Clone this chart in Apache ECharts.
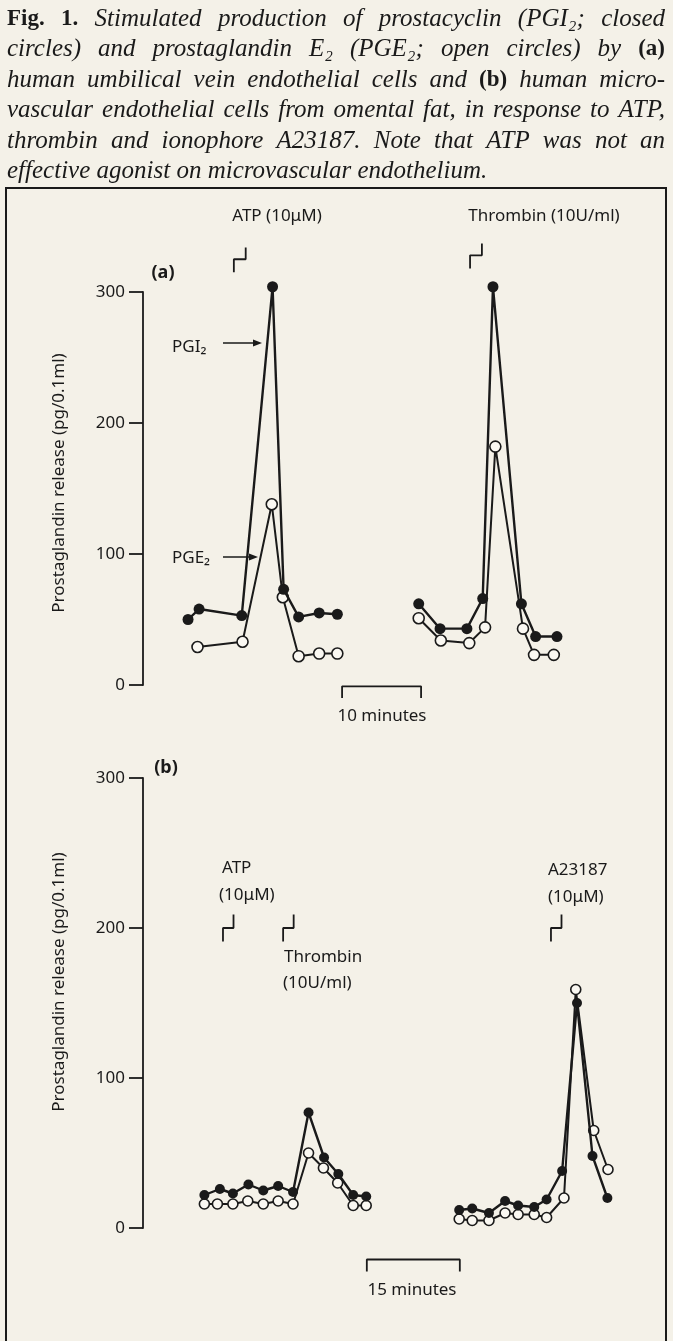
<!DOCTYPE html>
<html><head><meta charset="utf-8">
<script src="https://cdn.jsdelivr.net/npm/echarts@6/dist/echarts.min.js"></script>
<style>html,body{margin:0;padding:0;background:#f4f1e8;} #chart{width:673px;height:1341px;}</style>
</head><body><div id="chart"></div>
<script>
// ---------- DATA ----------
// Panel (a): human umbilical vein endothelial cells (time in minutes, release in pg/0.1ml)
const aTimeLeftPGI2  = [5.7, 7.1, 12.5, 16.4, 17.8, 19.7, 22.3, 24.6];
const aPGI2Left      = [50, 58, 53, 304, 73, 52, 55, 54];
const aTimeLeftPGE2  = [6.9, 12.6, 16.3, 17.7, 19.7, 22.3, 24.6];
const aPGE2Left      = [29, 33, 138, 67, 22, 24, 24];
const aTimeRightPGI2 = [34.9, 37.6, 41.0, 43.0, 44.3, 47.9, 49.7, 52.4];
const aPGI2Right     = [62, 43, 43, 66, 304, 62, 37, 37];
const aTimeRightPGE2 = [34.9, 37.7, 41.3, 43.3, 44.6, 48.1, 49.5, 52.0];
const aPGE2Right     = [51, 34, 32, 44, 182, 43, 23, 23];
// Panel (b): human microvascular endothelial cells from omental fat
const bTimeLeftPGI2  = [9.9, 12.4, 14.5, 17.0, 19.4, 21.8, 24.2, 26.7, 29.2, 31.5, 33.9, 36.0];
const bPGI2Left      = [22, 26, 23, 29, 25, 28, 24, 77, 47, 36, 22, 21];
const bTimeLeftPGE2  = [9.9, 12.0, 14.5, 16.9, 19.4, 21.8, 24.2, 26.7, 29.1, 31.4, 33.9, 36.0];
const bPGE2Left      = [16, 16, 16, 18, 16, 18, 16, 50, 40, 30, 15, 15];
const bTimeRightPGI2 = [51.0, 53.1, 55.8, 58.4, 60.5, 63.1, 65.1, 67.6, 70.0, 72.5, 74.9];
const bPGI2Right     = [12, 13, 10, 18, 15, 14, 19, 38, 150, 48, 20];
const bTimeRightPGE2 = [51.0, 53.1, 55.8, 58.4, 60.5, 63.1, 65.1, 67.9, 69.8, 72.7, 75.0];
const bPGE2Right     = [6, 5, 5, 10, 9, 9, 7, 20, 159, 65, 39];
// Axis ticks
const yTicks = [0, 100, 200, 300];
// Agonist additions (minutes) and marker levels
const aStimTimes = [11.5, 41.4];
const aStimLevels = [315, 318];
const bStimTimes = [12.9, 22.6, 65.8];
const bStimLevels = [191, 191, 191];
// Time scale bars (minutes)
const aScaleBar = [25.2, 35.2];   // 10 minutes
const bScaleBar = [36.1, 51.1];   // 15 minutes

// ---------- STYLE ----------
const INK = '#1a1a1a';
const PAPER = '#f4f1e8';
const SANS = '"Noto Sans", "DejaVu Sans", sans-serif';
const SERIF = '"Liberation Serif", "DejaVu Serif", serif';

function pts(xs, ys) { return xs.map((x, i) => [x, ys[i]]); }
function closedSeries(g, xs, ys, size) {
  return { type: 'line', xAxisIndex: g, yAxisIndex: g, data: pts(xs, ys), symbol: 'circle', symbolSize: size,
    itemStyle: { color: INK }, lineStyle: { color: INK, width: 2.4 }, clip: false, z: 4, silent: true, animation: false };
}
function openSeries(g, xs, ys, size) {
  return { type: 'line', xAxisIndex: g, yAxisIndex: g, data: pts(xs, ys), symbol: 'circle', symbolSize: size,
    itemStyle: { color: '#faf8f2', borderColor: INK, borderWidth: 1.6 }, lineStyle: { color: INK, width: 2 },
    clip: false, z: 3, silent: true, animation: false };
}
function pathSeries(g, data) {
  return { type: 'line', xAxisIndex: g, yAxisIndex: g, data: data, symbol: 'none', clip: false,
    lineStyle: { color: INK, width: 1.8 }, silent: true, animation: false, z: 2 };
}
function stepMarker(g, t, lvl, w, h1, h2) {
  return pathSeries(g, [[t, lvl], [t, lvl + h1], [t + w, lvl + h1], [t + w, lvl + h1 + h2]]);
}
function scaleBar(g, range, yTop, yBot) {
  return pathSeries(g, [[range[0], yBot], [range[0], yTop], [range[1], yTop], [range[1], yBot]]);
}

const yAxisBase = {
  type: 'value', min: yTicks[0], max: yTicks[yTicks.length - 1], interval: 100,
  axisLine: { show: true, lineStyle: { color: INK, width: 1.8 } },
  axisTick: { show: true, length: 14, lineStyle: { color: INK, width: 1.8 } },
  axisLabel: { fontFamily: SANS, fontSize: 17, color: INK, margin: 18 },
  splitLine: { show: false }
};

const series = [
  openSeries(0, aTimeLeftPGE2, aPGE2Left, 11),
  closedSeries(0, aTimeLeftPGI2, aPGI2Left, 11),
  openSeries(0, aTimeRightPGE2, aPGE2Right, 11),
  closedSeries(0, aTimeRightPGI2, aPGI2Right, 11),
  closedSeries(1, bTimeLeftPGI2, bPGI2Left, 10),
  openSeries(1, bTimeLeftPGE2, bPGE2Left, 10),
  closedSeries(1, bTimeRightPGI2, bPGI2Right, 10),
  openSeries(1, bTimeRightPGE2, bPGE2Right, 10),
  scaleBar(0, aScaleBar, -1, -10),
  scaleBar(1, bScaleBar, -21, -29)
];
aStimTimes.forEach((t, i) => series.push(stepMarker(0, t, aStimLevels[i], 1.5, 10, 9)));
bStimTimes.forEach((t, i) => series.push(stepMarker(1, t, bStimLevels[i], 1.7, 9, 9)));

// ---------- TEXT / GRAPHICS ----------
const graphics = [];
graphics.push({ type: 'rect', shape: { x: 6, y: 188, width: 660, height: 1200 },
  style: { fill: 'none', stroke: INK, lineWidth: 2 }, silent: true });

function txt(s, x, y, opts) {
  graphics.push(Object.assign({ type: 'text', x: x, y: y, silent: true,
    style: Object.assign({ text: s, fill: INK, font: '17px ' + SANS, textAlign: 'left', textVerticalAlign: 'middle' }, opts || {}) }));
}
function arrow(x1, x2, y) {
  graphics.push({ type: 'line', shape: { x1: x1, y1: y, x2: x2 - 6, y2: y }, style: { stroke: INK, lineWidth: 1.5 }, silent: true });
  graphics.push({ type: 'polygon', shape: { points: [[x2, y], [x2 - 9, y - 3.5], [x2 - 9, y + 3.5]] }, style: { fill: INK }, silent: true });
}

// Caption (justified)
const captionLines = [
  [['b', 'Fig.'], ['b', '1.'], ['i', 'Stimulated production of prostacyclin (PGI₂; closed']],
  [['i', 'circles) and prostaglandin E₂ (PGE₂; open circles) by'], ['b', '(a)']],
  [['i', 'human umbilical vein endothelial cells and'], ['b', '(b)'], ['i', 'human micro-']],
  [['i', 'vascular endothelial cells from omental fat, in response to ATP,']],
  [['i', 'thrombin and ionophore A23187. Note that ATP was not an']],
  [['i', 'effective agonist on microvascular endothelium.']]
];
const capY = [19, 49, 80, 110, 141, 171];
const fontI = 'italic 25px ' + SERIF, fontB = 'bold 23px ' + SERIF;
const ctx = document.createElement('canvas').getContext('2d');
captionLines.forEach((line, li) => {
  const words = [];
  line.forEach(([k, s]) => s.split(' ').forEach(w => words.push({ w: w, f: k === 'b' ? fontB : fontI })));
  let sum = 0;
  words.forEach(o => { ctx.font = o.f; o.width = ctx.measureText(o.w).width; sum += o.width; });
  const x0 = 7, x1 = 665;
  ctx.font = fontI;
  let gap = (li === captionLines.length - 1) ? ctx.measureText(' ').width : (x1 - x0 - sum) / (words.length - 1);
  let x = x0;
  words.forEach(o => { txt(o.w, x, capY[li], { font: o.f }); x += o.width + gap; });
});

// Panel (a) labels
txt('ATP (10μM)', 277, 216, { textAlign: 'center' });
txt('Thrombin (10U/ml)', 544, 216, { textAlign: 'center' });
txt('(a)', 163, 273, { textAlign: 'center', font: 'bold 18px ' + SANS });
txt('PGI₂', 172, 347);
arrow(223, 262, 343);
txt('PGE₂', 172, 558);
arrow(223, 258, 557);
txt('10 minutes', 382, 716, { textAlign: 'center' });
txt('Prostaglandin release (pg/0.1ml)', 0, 0, { textAlign: 'center' });
graphics[graphics.length - 1].x = 59; graphics[graphics.length - 1].y = 483; graphics[graphics.length - 1].rotation = Math.PI / 2;

// Panel (b) labels
txt('(b)', 166, 768, { textAlign: 'center', font: 'bold 18px ' + SANS });
txt('ATP', 222, 868);
txt('(10μM)', 219, 895);
txt('Thrombin', 284, 957);
txt('(10U/ml)', 283, 983);
txt('A23187', 548, 870);
txt('(10μM)', 548, 897);
txt('15 minutes', 412, 1290, { textAlign: 'center' });
txt('Prostaglandin release (pg/0.1ml)', 0, 0, { textAlign: 'center' });
graphics[graphics.length - 1].x = 59; graphics[graphics.length - 1].y = 982; graphics[graphics.length - 1].rotation = Math.PI / 2;

const chart = echarts.init(document.getElementById('chart'), null, { renderer: 'canvas' });
chart.setOption({
  backgroundColor: PAPER,
  animation: false,
  grid: [
    { left: 143, top: 292, width: 474, height: 393 },
    { left: 143, top: 778, width: 496, height: 450 }
  ],
  xAxis: [
    { type: 'value', gridIndex: 0, min: 0, max: 60, show: false },
    { type: 'value', gridIndex: 1, min: 0, max: 80, show: false }
  ],
  yAxis: [
    Object.assign({ gridIndex: 0 }, yAxisBase),
    Object.assign({ gridIndex: 1 }, yAxisBase)
  ],
  series: series,
  graphic: graphics
});
</script></body></html>
